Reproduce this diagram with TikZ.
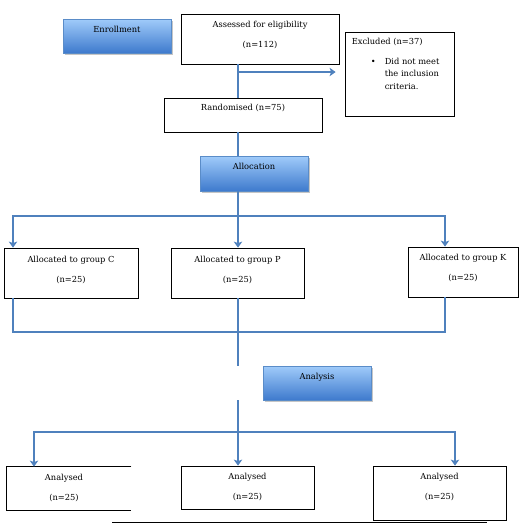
\documentclass[tikz,border=0pt]{standalone}
\usepackage{fontspec}
\setmainfont{DejaVu Serif}
\usetikzlibrary{arrows.meta,shadows}
\definecolor{flowblue}{RGB}{79,129,189}
\definecolor{stagetop}{RGB}{160,203,250}
\definecolor{stagebot}{RGB}{62,122,205}
\definecolor{stageedge}{RGB}{90,140,200}
\tikzset{
  flowbox/.style={draw=black, line width=0.8pt, fill=white, inner sep=0pt},
  stagebox/.style={draw=stageedge, line width=0.4pt, inner sep=0pt,
    top color=stagetop, bottom color=stagebot,
    drop shadow={opacity=0.45, shadow xshift=1.5pt, shadow yshift=-2pt}},
  boxtext/.style={anchor=north, align=center, inner sep=0pt, yshift=-7pt},
  flow/.style={draw=flowblue, line width=2.6pt},
  flowarr/.style={flow, -{Stealth[length=6pt, width=8.5pt, inset=1.5pt]}}
}
\begin{document}
\begin{tikzpicture}[x=1pt, y=-1pt, font=\fontsize{8.3}{10}\selectfont]
\useasboundingbox (0,0) rectangle (527,523);
% stage labels
\node[stagebox, minimum width=108pt, minimum height=34pt] (enroll) at (117,36) {};
\node[boxtext] at (enroll.north) {Enrollment};
\node[stagebox, minimum width=108pt, minimum height=35pt] (alloc) at (254,173.5) {};
\node[boxtext] at (alloc.north) {Allocation};
\node[stagebox, minimum width=108pt, minimum height=34pt] (analysis) at (317,383) {};
\node[boxtext] at (analysis.north) {Analysis};
% enrolment boxes
\node[flowbox, minimum width=158pt, minimum height=50pt] (assess) at (260,39) {};
\node[boxtext] at (assess.north) {Assessed for eligibility\\[10pt](n=112)};
\node[flowbox, minimum width=109pt, minimum height=84pt] (excl) at (399.5,74) {};
\node[anchor=north west, align=left, inner sep=0pt] at ([xshift=7pt, yshift=-6pt]excl.north west)
  {Excluded (n=37)\\[10pt]
   \hspace*{19pt}\makebox[14pt][l]{\textbullet}Did not meet\\[2.5pt]
   \hspace*{33pt}the inclusion\\[2.5pt]
   \hspace*{33pt}criteria.};
\node[flowbox, minimum width=158pt, minimum height=34pt] (rand) at (243,115) {};
\node[boxtext, yshift=1pt] at (rand.north) {Randomised (n=75)};
% groups
\node[flowbox, minimum width=134pt, minimum height=50pt] (grpC) at (71,273) {};
\node[boxtext, yshift=-1pt] at (grpC.north) {Allocated to group C\\[10pt](n=25)};
\node[flowbox, minimum width=133pt, minimum height=50pt] (grpP) at (237.5,273) {};
\node[boxtext, yshift=-1pt] at (grpP.north) {Allocated to group P\\[10pt](n=25)};
\node[flowbox, minimum width=110pt, minimum height=50pt] (grpK) at (463,272) {};
\node[boxtext] at (grpK.north) {Allocated to group K\\[10pt](n=25)};
% analysed
\node[flowbox, draw=none, minimum width=124pt, minimum height=43pt] (anOne) at (69,488.5) {};
\draw[line width=0.8pt] (anOne.north east) -- (anOne.north west) -- (anOne.south west) -- (anOne.south east);
\node[boxtext] at ([xshift=-5pt]anOne.north) {Analysed\\[10pt](n=25)};
\node[flowbox, minimum width=133pt, minimum height=43pt] (anTwo) at (247.5,487.5) {};
\node[boxtext] at (anTwo.north) {Analysed\\[10pt](n=25)};
\node[flowbox, minimum width=133pt, minimum height=54pt] (anThree) at (439.5,493) {};
\node[boxtext] at (anThree.north) {Analysed\\[10pt](n=25)};
% connectors
\coordinate (spine) at (238,0);
\coordinate (exbr) at (238,72);
\coordinate (allocbr) at (238,216);
\coordinate (armC) at (13,216);
\coordinate (armK) at (445,216);
\coordinate (mergeC) at (13,332);
\coordinate (mergeK) at (445,332);
\coordinate (anbr) at (238,432);
\coordinate (armL) at (34,432);
\coordinate (armR) at (455,432);
\draw[flow] (assess.south -| spine) -- (rand.north -| spine);
\draw[flowarr, shorten >=9pt] (exbr) -- (excl.west |- exbr);
\draw[flow] (rand.south -| spine) -- (alloc.north -| spine);
\draw[flow] (alloc.south -| spine) -- (allocbr);
\draw[flowarr] (allocbr) -- (armC) -- (armC |- grpC.north);
\draw[flowarr] (allocbr) -- (grpP.north -| spine);
\draw[flowarr] (allocbr) -- (armK) -- (armK |- grpK.north);
\draw[flow] (grpC.south -| mergeC) -- (mergeC) -- (mergeK) -- (grpK.south -| mergeK);
\draw[flow] (grpP.south -| spine) -- (analysis.north -| spine);
\draw[flow] (analysis.south -| spine) -- (anbr);
\draw[flowarr] (anbr) -- (armL) -- (armL |- anOne.north);
\draw[flowarr] (anbr) -- (anTwo.north -| spine);
\draw[flowarr] (anbr) -- (armR) -- (armR |- anThree.north);
% rule under the chart
\draw[line width=0.6pt] (112,522) -- (487,522);
\end{tikzpicture}
\end{document}
